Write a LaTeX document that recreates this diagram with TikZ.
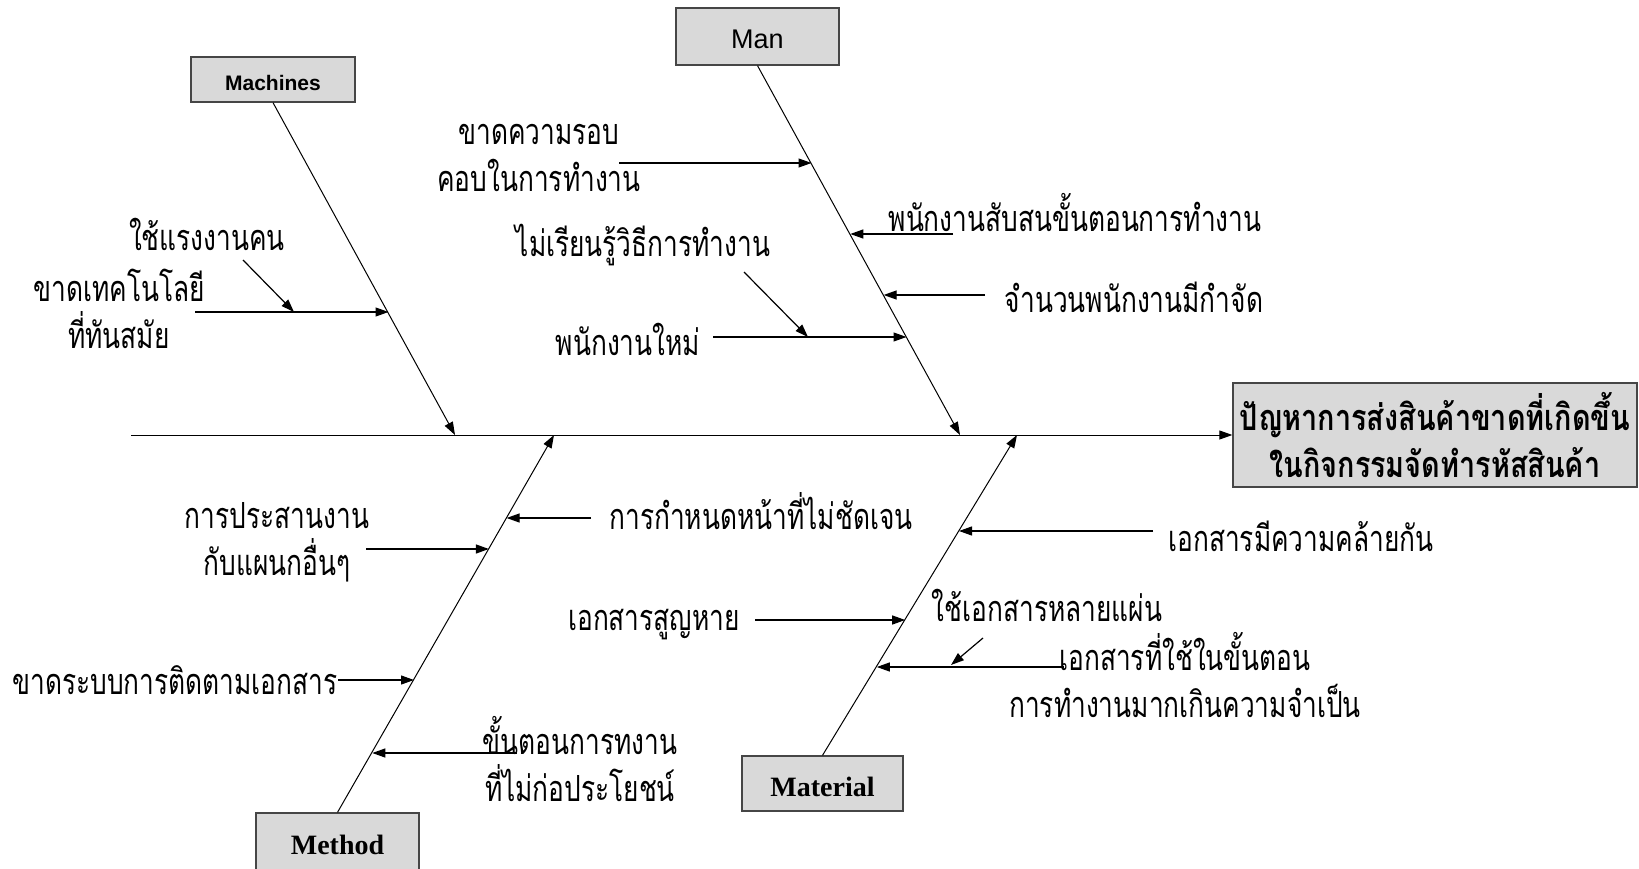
\documentclass[tikz,border=0pt]{standalone}
\usepackage{fontspec}
\usetikzlibrary{arrows.meta}
\newfontfamily\thaitext[Script=Thai,FakeStretch=0.73]{Loma}
\newfontfamily\thaihead[Script=Thai,FakeStretch=0.8]{Loma}
\newfontfamily\labsans{Liberation Sans}
\newfontfamily\labserif{Liberation Serif}
\definecolor{boxfill}{RGB}{217,217,217}
\definecolor{boxline}{RGB}{70,70,70}
\tikzset{
  catbox/.style={draw=boxline, fill=boxfill, line width=1.3pt, inner sep=0pt},
  boxtext/.style={inner sep=0pt, yshift=-3pt},
  bone/.style={line width=1pt, -{Triangle[length=13pt,width=9pt]}},
  twig/.style={line width=1.2pt, -{Triangle[length=13pt,width=9pt]}},
  cause/.style={font=\thaitext\fontsize{36}{47}\selectfont, inner sep=0pt, align=center},
}
\begin{document}
\begin{tikzpicture}[x=1pt,y=-1pt]
\useasboundingbox (0,0) rectangle (1639,869);

% category boxes, captions set slightly below the box centre
\node[catbox, minimum width=163pt, minimum height=57pt,
      label={[boxtext, font=\labsans\fontsize{27}{30}\selectfont]center:Man}] (man) at (757.5,36.5) {};
\node[catbox, minimum width=164pt, minimum height=45pt,
      label={[boxtext, font=\labsans\bfseries\fontsize{21}{24}\selectfont]center:Machines}] (mach) at (273,79.5) {};
\node[catbox, minimum width=163pt, minimum height=58pt,
      label={[boxtext, font=\labserif\bfseries\fontsize{28}{30}\selectfont]center:Method}] (meth) at (337.5,842) {};
\node[catbox, minimum width=161pt, minimum height=55pt,
      label={[boxtext, font=\labserif\bfseries\fontsize{28}{30}\selectfont]center:Material}] (mat) at (822.5,783.5) {};

% effect box
\node[catbox, minimum width=404pt, minimum height=104pt, align=center,
      font=\thaihead\bfseries\fontsize{36}{47}\selectfont] (eff) at (1435,435)
      {ปัญหาการส่งสินค้าขาดที่เกิดขึ้น\\ในกิจกรรมจัดทำรหัสสินค้า};

% spine and main bones
\coordinate (tail) at (131,435);
\coordinate (jmach) at (455,435);
\coordinate (jman) at (960,435);
\coordinate (jmeth) at (554,435);
\coordinate (jmat) at (1017,435);
\draw[bone] (tail) -- (eff.west);
\draw[bone] (mach.south) -- (jmach);
\draw[bone] (man.south) -- (jman);
\draw[bone] (meth.north) -- (jmeth);
\draw[bone] (mat.north) -- (jmat);

% Machines causes
\node[cause] (c1) at (207,234) {ใช้แรงงานคน};
\node[cause] (c2) at (119,309) {ขาดเทคโนโลยี\\ที่ทันสมัย};
\coordinate (c2s) at (195,312);
\coordinate (c2e) at (388.5,312);
\coordinate (c1s) at (243,260);
\coordinate (c1e) at (294,312);
\draw[twig] (c2s) -- (c2e);
\draw[twig] (c1s) -- (c1e);

% Man causes
\node[cause] (c3) at (539,158) {ขาดความรอบ\\คอบในการทำงาน};
\coordinate (c3s) at (619,163);
\coordinate (c3e) at (811.5,163);
\draw[twig] (c3s) -- (c3e);

\node[cause] (c4) at (1075,213) {พนักงานสับสนขั้นตอนการทำงาน};
\coordinate (c4s) at (953,234);
\coordinate (c4e) at (850.3,234);
\draw[twig] (c4s) -- (c4e);

\node[cause] (c5) at (1134,297) {จำนวนพนักงานมีกำจัด};
\coordinate (c5s) at (985,295);
\coordinate (c5e) at (883.6,295);
\draw[twig] (c5s) -- (c5e);

\node[cause] (c6) at (643,245) {ไม่เรียนรู้วิธีการทำงาน};
\node[cause] (c7) at (628,339) {พนักงานใหม่};
\coordinate (c7s) at (713,337);
\coordinate (c7e) at (906.5,337);
\coordinate (c6s) at (744,272);
\coordinate (c6e) at (808,337);
\draw[twig] (c7s) -- (c7e);
\draw[twig] (c6s) -- (c6e);

% Method causes
\node[cause] (c8) at (761,511) {การกำหนดหน้าที่ไม่ชัดเจน};
\coordinate (c8s) at (591,518);
\coordinate (c8e) at (506.6,518);
\draw[twig] (c8s) -- (c8e);

\node[cause] (c9) at (277,542) {การประสานงาน\\กับแผนกอื่นๆ};
\coordinate (c9s) at (366,549);
\coordinate (c9e) at (488.9,549);
\draw[twig] (c9s) -- (c9e);

\node[cause] (c10) at (175,680) {ขาดระบบการติดตามเอกสาร};
\coordinate (c10s) at (338,680);
\coordinate (c10e) at (414,680);
\draw[twig] (c10s) -- (c10e);

\node[cause] (c11) at (580,759) {ขั้นตอนการทงาน\\ที่ไม่ก่อประโยชน์};
\coordinate (c11s) at (517,753);
\coordinate (c11e) at (372.3,753);
\draw[twig] (c11s) -- (c11e);

% Material causes
\node[cause] (c12) at (1301,536) {เอกสารมีความคล้ายกัน};
\coordinate (c12s) at (1153,531);
\coordinate (c12e) at (959,531);
\draw[twig] (c12s) -- (c12e);

\node[cause] (c13) at (654,625) {เอกสารสูญหาย};
\coordinate (c13s) at (755,620);
\coordinate (c13e) at (905.2,620);
\draw[twig] (c13s) -- (c13e);

\node[cause] (c14) at (1047,605) {ใช้เอกสารหลายแผ่น};
\node[cause] (c15) at (1185,675) {เอกสารที่ใช้ในขั้นตอน\\การทำงานมากเกินความจำเป็น};
\coordinate (c15s) at (1064,667);
\coordinate (c15e) at (876.8,667);
\coordinate (c14s) at (983,638);
\coordinate (c14e) at (951,665);
\draw[twig] (c15s) -- (c15e);
\draw[twig] (c14s) -- (c14e);
\end{tikzpicture}
\end{document}
